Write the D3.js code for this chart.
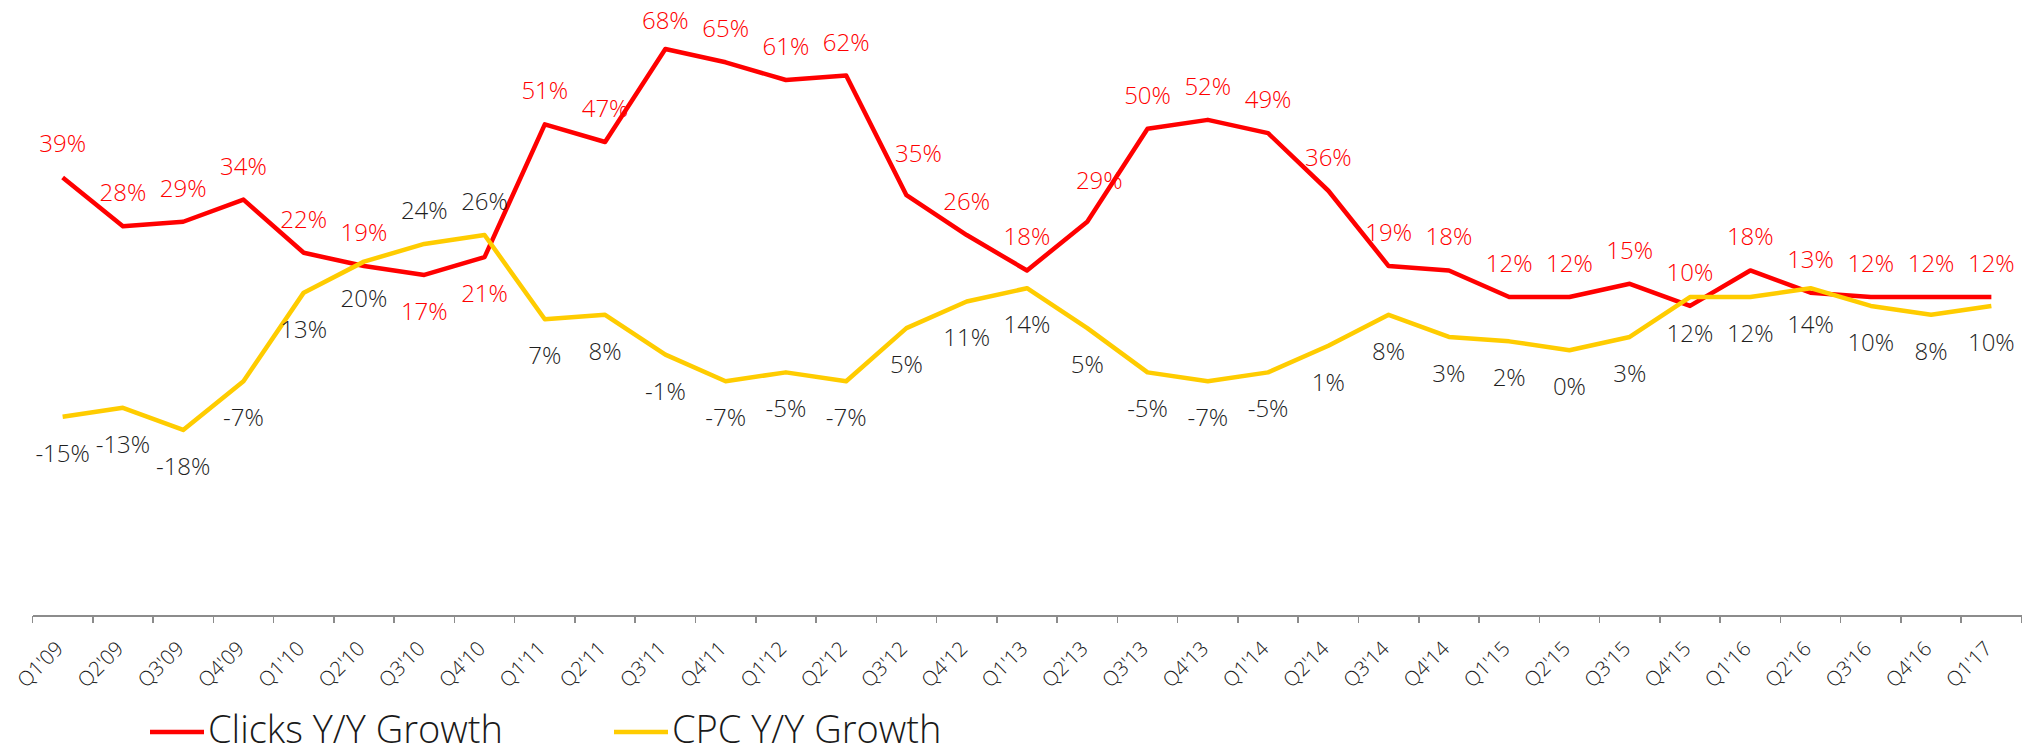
<!DOCTYPE html>
<html lang="en">
<head>
<meta charset="utf-8">
<title>Clicks and CPC Y/Y Growth</title>
<script type="text/javascript" src="https://cdnjs.cloudflare.com/ajax/libs/d3/7.8.5/d3.min.js"></script>
<style type="text/css">
    body { margin: 0; background: #fff; }
    svg { display: block; font-family: "Open Sans", "Noto Sans", sans-serif; }
    .axis path, .axis line { fill: none; stroke: #8c8c8c; stroke-width: 1.5; shape-rendering: crispEdges; }
    .tick-label { font-size: 20.5px; fill: #1a1a1a; font-weight: 300; }
    .val { font-size: 24px; font-weight: 300; text-anchor: middle; }
    .legend text { font-size: 38px; fill: #1a1a1a; font-weight: 300; }
</style>
</head>
<body>
<script type="text/javascript">
    var quarters = ["Q1'09","Q2'09","Q3'09","Q4'09","Q1'10","Q2'10","Q3'10","Q4'10",
                    "Q1'11","Q2'11","Q3'11","Q4'11","Q1'12","Q2'12","Q3'12","Q4'12",
                    "Q1'13","Q2'13","Q3'13","Q4'13","Q1'14","Q2'14","Q3'14","Q4'14",
                    "Q1'15","Q2'15","Q3'15","Q4'15","Q1'16","Q2'16","Q3'16","Q4'16","Q1'17"];
    var clicks = [39,28,29,34,22,19,17,21,51,47,68,65,61,62,35,26,
                  18,29,50,52,49,36,19,18,12,12,15,10,18,13,12,12,12];
    var cpc = [-15,-13,-18,-7,13,20,24,26,7,8,-1,-7,-5,-7,5,11,
               14,5,-5,-7,-5,1,8,3,2,0,3,12,12,14,10,8,10];
    var seriesNames = ["Clicks Y/Y Growth", "CPC Y/Y Growth"];
    var seriesColors = ["#ff0000", "#ffcc00"];
    var labelColors = ["#ff0000", "#1f1f1f"];

    // quarters where the labels swap sides (clicks below, cpc above)
    var swapped = ["Q3'10", "Q4'10"];
    // a couple of clicks labels were nudged off the steep line segments
    var nudged = ["Q3'12", "Q2'13"];

    var w = 2032, h = 754;
    var axisY = 616;

    var svg = d3.select("body").append("svg")
        .attr("width", w)
        .attr("height", h);

    var x = d3.scaleBand().domain(quarters).range([32.5, 2021.5]);
    var y = d3.scaleLinear().domain([-60, 68]).range([axisY, 49]);
    var cx = function(q) { return x(q) + x.bandwidth() / 2; };

    // x axis: line plus boundary ticks
    var axis = svg.append("g").attr("class", "axis");
    axis.append("line")
        .attr("x1", x.range()[0]).attr("x2", x.range()[1])
        .attr("y1", axisY).attr("y2", axisY);
    var bounds = quarters.map(function(q) { return x(q); }).concat([x.range()[1]]);
    axis.selectAll("line.tk")
        .data(bounds)
        .enter().append("line")
        .attr("class", "tk")
        .attr("x1", function(d) { return d; })
        .attr("x2", function(d) { return d; })
        .attr("y1", axisY)
        .attr("y2", axisY + 7);

    svg.selectAll("text.tick-label")
        .data(quarters)
        .enter().append("text")
        .attr("class", "tick-label")
        .attr("text-anchor", "end")
        .attr("transform", function(d) { return "translate(" + (cx(d) + 2) + "," + (axisY + 34) + ") rotate(-45)"; })
        .text(function(d) { return d; });

    var allSeries = [clicks, cpc];

    var line = d3.line()
        .x(function(d, i) { return cx(quarters[i]); })
        .y(function(d) { return y(d); });

    allSeries.forEach(function(vals, s) {
        svg.append("path")
            .datum(vals)
            .attr("fill", "none")
            .attr("stroke", seriesColors[s])
            .attr("stroke-width", 4.5)
            .attr("stroke-linejoin", "round")
            .attr("d", line);
    });

    allSeries.forEach(function(vals, s) {
        svg.selectAll("text.val" + s)
            .data(vals)
            .enter().append("text")
            .attr("class", "val val" + s)
            .attr("fill", labelColors[s])
            .attr("x", function(d, i) {
                var dx = (s === 0 && nudged.indexOf(quarters[i]) >= 0) ? 12 : 0;
                return cx(quarters[i]) + dx;
            })
            .attr("y", function(d, i) {
                var above = (s === 0);
                if (swapped.indexOf(quarters[i]) >= 0) above = !above;
                var up = (s === 0 && nudged.indexOf(quarters[i]) >= 0) ? 33 : 25;
                // labels at the top are kept inside the plot area
                return above ? Math.max(y(d) - up, 29) : y(d) + 45;
            })
            .text(function(d) { return d + "%"; });
    });

    // legend
    var legendX = [150, 614];
    var legend = svg.append("g").attr("class", "legend");
    seriesNames.forEach(function(name, s) {
        legend.append("line")
            .attr("x1", legendX[s]).attr("x2", legendX[s] + 54)
            .attr("y1", 732).attr("y2", 732)
            .attr("stroke", seriesColors[s])
            .attr("stroke-width", 4.5);
        legend.append("text")
            .attr("x", legendX[s] + 58)
            .attr("y", 743)
            .text(name);
    });
</script>
</body>
</html>
